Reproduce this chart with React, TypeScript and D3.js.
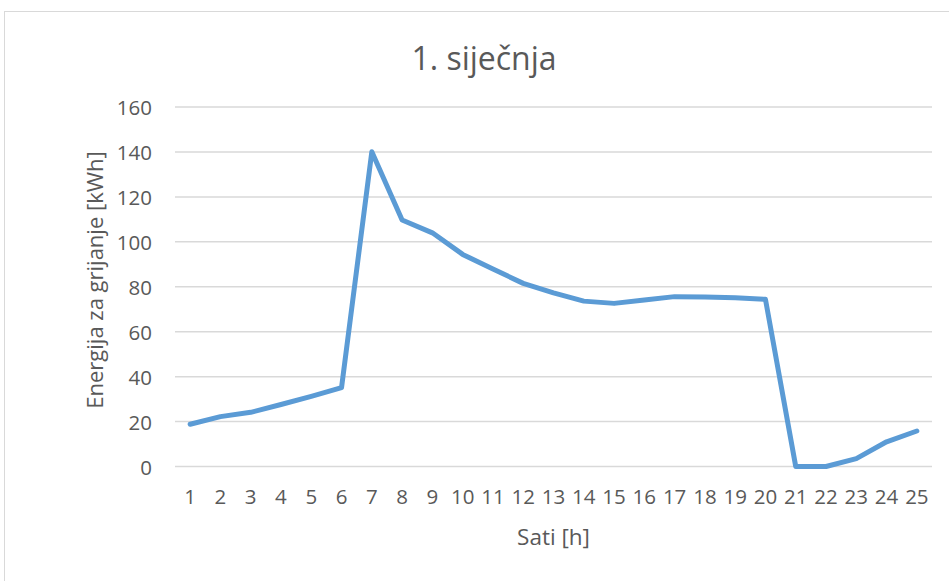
import React from 'react';
import * as d3 from 'd3';

const hours = d3.range(1, 26).map(String);
const energy = [
  18.8, 22.2, 24.1, 27.6, 31.2, 35.1, 140.1, 109.7, 104.0, 94.4,
  87.9, 81.5, 77.3, 73.6, 72.6, 74.1, 75.6, 75.4, 75.1, 74.4,
  0, 0, 3.5, 11.0, 15.8,
];
const yTicks = [0, 20, 40, 60, 80, 100, 120, 140, 160];

const title = '1. siječnja';
const xTitle = 'Sati [h]';
const yTitle = 'Energija za grijanje [kWh]';

const W = 949;
const H = 581;
const font = '"Open Sans", "Liberation Sans", sans-serif';
const grey = '#595959';

export default function App() {
  const left = 175;
  const right = 932;
  const top = 107;
  const bottom = 466.5;

  const x = d3.scaleBand().domain(hours).range([left, right]);
  const y = d3.scaleLinear().domain([0, 160]).range([bottom, top]);

  const line = d3
    .line<number>()
    .x((d, i) => x(hours[i])! + x.bandwidth() / 2)
    .y(d => y(d));

  return (
    <svg width={W} height={H} style={{ position: 'absolute', left: 0, top: 0, background: '#fff' }}>
      <rect x={4.5} y={11.5} width={W + 10} height={H + 10} fill="#fff" stroke="#d9d9d9" strokeWidth={1} />
      <text x={484} y={57} textAnchor="middle" dominantBaseline="central" fontFamily={font} fontSize={32} fill={grey}>
        {title}
      </text>
      {yTicks.map(t => (
        <g key={t}>
          <line x1={left} x2={right} y1={y(t)} y2={y(t)} stroke="#d9d9d9" strokeWidth={1.5} />
          <text x={152} y={y(t)} textAnchor="end" dominantBaseline="central" fontFamily={font} fontSize={20.5} fill={grey}>
            {t}
          </text>
        </g>
      ))}
      {hours.map(h => (
        <text key={h} x={x(h)! + x.bandwidth() / 2} y={496} textAnchor="middle" dominantBaseline="central" fontFamily={font} fontSize={20.5} fill={grey}>
          {h}
        </text>
      ))}
      <path d={line(energy) ?? ''} fill="none" stroke="#5b9bd5" strokeWidth={5} strokeLinejoin="round" strokeLinecap="round" />
      <text x={(left + right) / 2} y={536} textAnchor="middle" dominantBaseline="central" fontFamily={font} fontSize={22.5} fill={grey}>
        {xTitle}
      </text>
      <text transform="translate(94,280) rotate(-90)" textAnchor="middle" dominantBaseline="central" fontFamily={font} fontSize={22} fill={grey}>
        {yTitle}
      </text>
    </svg>
  );
}
